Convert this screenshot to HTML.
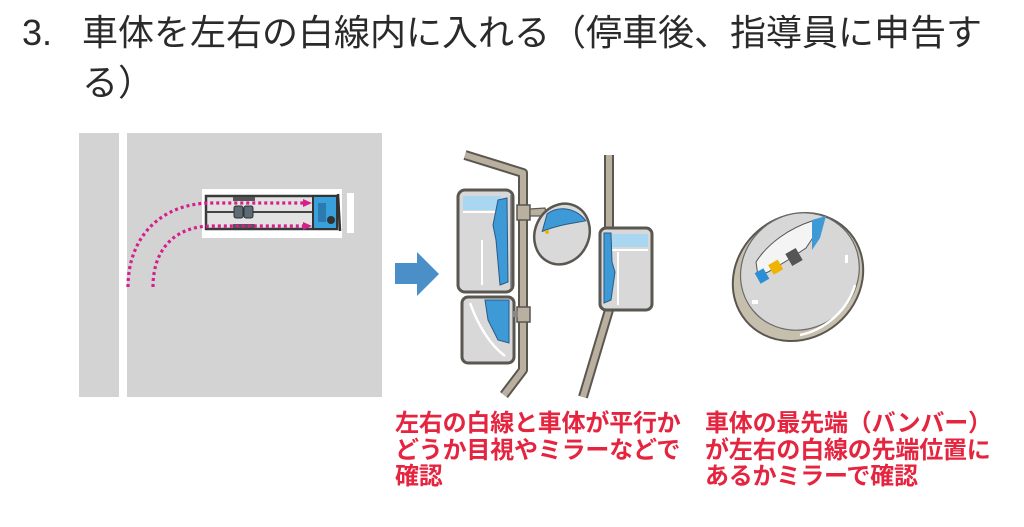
<!DOCTYPE html>
<html><head><meta charset="utf-8">
<style>
html,body{margin:0;padding:0;background:#fff;}
body{width:1024px;height:527px;position:relative;overflow:hidden;}
.t{position:absolute;font-family:"Liberation Sans","Noto Sans CJK JP",sans-serif;color:#2a2a2a;font-size:36px;line-height:48px;white-space:nowrap;}
.r{position:absolute;font-family:"Liberation Sans","Noto Sans CJK JP",sans-serif;color:#e5253f;font-size:24px;font-weight:bold;line-height:26.5px;white-space:nowrap;letter-spacing:-0.2px;}
svg{position:absolute;left:0;top:0;}
</style></head><body>
<svg width="1024" height="527" viewBox="0 0 1024 527">
  <!-- parking lot -->
  <rect x="79" y="133" width="40" height="264" fill="#d3d3d3"/>
  <rect x="127" y="133" width="255" height="264" fill="#d3d3d3"/>
  <rect x="202" y="189" width="140" height="49" fill="#fff"/>
  <rect x="347" y="193" width="7" height="40" fill="#fff"/>
  <!-- truck -->
  <rect x="206" y="196" width="131" height="33" fill="#e2e2e2" stroke="#3a3a3a" stroke-width="2.5"/>
  <line x1="206" y1="212" x2="313" y2="212" stroke="#444" stroke-width="2"/>
  <rect x="234" y="206" width="9" height="12" rx="2" fill="#5d6b75" stroke="#333" stroke-width="1"/>
  <rect x="244" y="206" width="9" height="12" rx="2" fill="#5d6b75" stroke="#333" stroke-width="1"/>
  <rect x="233" y="197" width="22" height="4" fill="#555"/>
  <rect x="233" y="224" width="22" height="4" fill="#555"/>
  <rect x="313" y="196" width="24" height="33" fill="#3aa0dc" stroke="#333" stroke-width="2"/>
  <rect x="318" y="203" width="8" height="19" fill="#2a7cb0"/>
  <circle cx="331" cy="220" r="4" fill="#333"/>
  <line x1="338" y1="194" x2="340" y2="231" stroke="#333" stroke-width="2.5"/>
  <!-- pink dotted path -->
  <g fill="none" stroke="#d61f8c" stroke-width="3.2" stroke-dasharray="3 3">
    <path d="M128,287 C128,238 160,203 212,203 L304,203"/>
    <path d="M153,287 C153,248 176,226 212,226 L304,226"/>
  </g>
  <polygon points="303,199 312,203 303,207" fill="#d61f8c"/>
  <polygon points="303,222 312,226 303,230" fill="#d61f8c"/>

  <!-- blue arrow -->
  <polygon points="395,263 417,263 417,252 439,274 417,296 417,284 395,284" fill="#4a8fc8"/>

  <!-- left pole -->
  <g fill="none" stroke-linejoin="round">
    <polyline points="465,155 523,173 523,370 504,395" stroke="#5a5650" stroke-width="10"/>
    <polyline points="465,155 523,173 523,370 504,395" stroke="#b9b09f" stroke-width="6"/>
  </g>
  <rect x="517" y="205" width="13" height="15" fill="#b9b09f" stroke="#5a5650" stroke-width="1.5"/>
  <rect x="517" y="307" width="13" height="15" fill="#b9b09f" stroke="#5a5650" stroke-width="1.5"/>
  <!-- arm to round mirror -->
  <polygon points="530,209 545,208 547,216 530,216" fill="#b9b09f" stroke="#5a5650" stroke-width="1.2"/>
  <!-- upper-left mirror -->
  <rect x="458" y="190" width="55" height="102" rx="7" fill="#d8d8d8" stroke="#5a5650" stroke-width="3"/>
  <rect x="463" y="196" width="38" height="14" fill="#a9d6f0"/>
  <line x1="463" y1="212" x2="500" y2="212" stroke="#fff" stroke-width="2"/>
  <path d="M498,200 L507,198 L508,282 L500,285 L496,240 L493,225 Z" fill="#3d9ad6" stroke="#2a5a86" stroke-width="1"/>
  <line x1="482" y1="240" x2="482" y2="285" stroke="#fff" stroke-width="2"/>
  <line x1="511" y1="195" x2="511" y2="288" stroke="#777" stroke-width="1.5"/>
  <!-- lower-left mirror -->
  <rect x="462" y="297" width="52" height="66" rx="6" fill="#d8d8d8" stroke="#5a5650" stroke-width="3"/>
  <path d="M485,300 L509,300 L509,343 L498,340 L488,320 Z" fill="#3d9ad6" stroke="#2a5a86" stroke-width="1"/>
  <path d="M470,303 C478,325 490,345 505,356" fill="none" stroke="#fff" stroke-width="2.5"/>
  <rect x="513" y="311" width="5" height="6" fill="#888"/>
  <!-- round small mirror -->
  <g transform="rotate(25 562 234)">
    <ellipse cx="562" cy="234" rx="27" ry="31" fill="#d9d9d9" stroke="#5a5650" stroke-width="2.5"/>
    <path d="M540,222 C548,208 565,205 578,212 C570,218 556,226 543,240 Z" fill="#3d9ad6" stroke="#2a5a86" stroke-width="1"/>
  </g>
  <circle cx="547" cy="232" r="2" fill="#f0b400"/>

  <!-- right pole -->
  <g fill="none" stroke-linejoin="round">
    <polyline points="609,155 609,310 583,397" stroke="#5a5650" stroke-width="10"/>
    <polyline points="609,155 609,310 583,397" stroke="#b9b09f" stroke-width="6"/>
  </g>
  <!-- right mirror -->
  <rect x="600" y="228" width="52" height="82" rx="6" fill="#d8d8d8" stroke="#5a5650" stroke-width="3"/>
  <rect x="612" y="234" width="36" height="13" fill="#a9d6f0"/>
  <line x1="612" y1="250" x2="648" y2="250" stroke="#fff" stroke-width="2"/>
  <line x1="618" y1="252" x2="618" y2="305" stroke="#fff" stroke-width="2"/>
  <path d="M604,233 L611,233 L612,262 L615,272 L611,300 L604,303 Z" fill="#3d9ad6" stroke="#2a5a86" stroke-width="1"/>

  <!-- big convex mirror -->
  <g transform="rotate(-40 798 277)">
    <ellipse cx="798" cy="277" rx="68" ry="61" fill="#c7bfae" stroke="#5a5650" stroke-width="2"/>
    <ellipse cx="803" cy="274" rx="61" ry="57" fill="#d7d7d7" stroke="#6a6a6a" stroke-width="1.2"/>
  </g>
  <path d="M756,262 C768,243 790,228 812,221 L818,230 L806,248 L788,260 L768,272 L758,276 Z" fill="#f4f4f4" stroke="#555" stroke-width="1"/>
  <path d="M812,220 L826,216 L820,238 L812,250 Z" fill="#3d9ad6"/>
  <rect x="788" y="250" width="12" height="14" fill="#555" transform="rotate(-30 794 257)"/>
  <rect x="770" y="262" width="11" height="11" fill="#f0b400" transform="rotate(-30 775 267)"/>
  <rect x="757" y="270" width="10" height="12" fill="#2a8fd6" transform="rotate(-30 762 276)"/>
  <path d="M800,335 C825,330 848,310 855,285" fill="none" stroke="#fff" stroke-width="2.5"/>
  <rect x="845" y="255" width="3" height="8" fill="#fff"/>
  <rect x="752" y="300" width="6" height="4" fill="#fff"/>
</svg>

<div class="t" style="left:22px;top:9px;">3.</div>
<div class="t" style="left:82px;top:9px;">車体を左右の白線内に入れる（停車後、指導員に申告す</div>
<div class="t" style="left:82px;top:59px;">る）</div>

<div class="r" style="left:395px;top:411px;">左右の白線と車体が平行か<br>どうか目視やミラーなどで<br>確認</div>
<div class="r" style="left:705px;top:411px;">車体の最先端（バンバー）<br>が左右の白線の先端位置に<br>あるかミラーで確認</div>
</body></html>
